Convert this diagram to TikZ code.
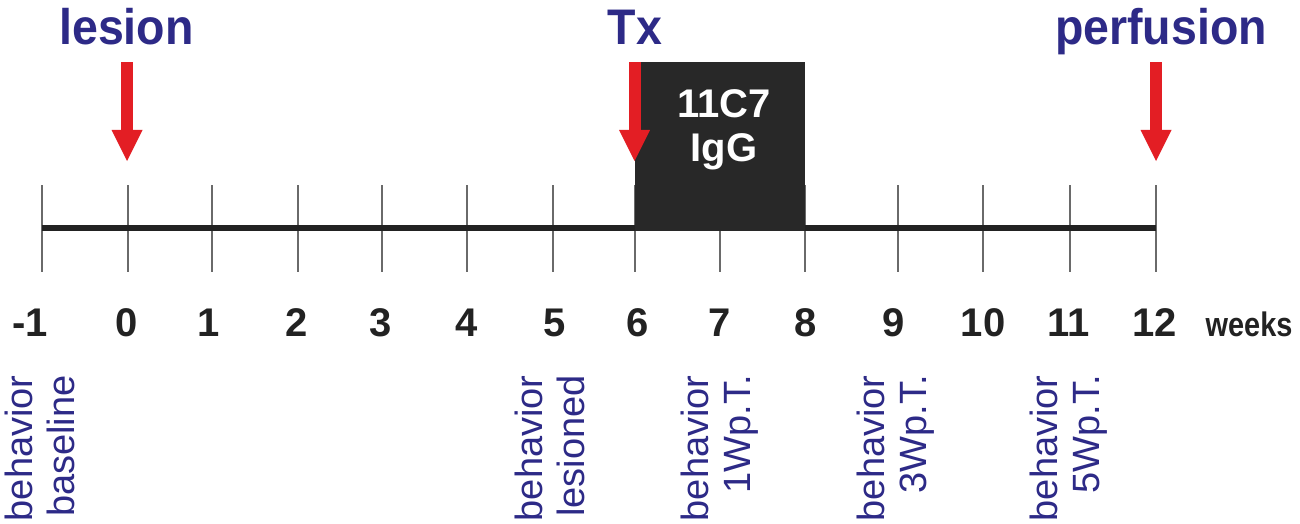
\documentclass[tikz,border=0pt]{standalone}
\usepackage{fontspec}
\setmainfont{Liberation Sans}
\newfontfamily\toplab[FakeStretch=0.93]{Liberation Sans}
\newfontfamily\wkfont[FakeStretch=0.85]{Liberation Sans}
\definecolor{navy}{HTML}{2D2A87}
\definecolor{arrowred}{HTML}{E31E24}
\definecolor{boxgray}{HTML}{282828}
\definecolor{tickgray}{HTML}{6A6A6A}
\definecolor{linedark}{HTML}{222222}
\begin{document}
\begin{tikzpicture}[x=0.5pt,y=-0.5pt,
  toplabel/.style={font=\toplab\bfseries\fontsize{25}{30}\selectfont, text=navy, anchor=base, inner sep=0pt},
  weeknum/.style={font=\bfseries\fontsize{20}{24}\selectfont, text=linedark, anchor=base, inner sep=0pt},
  weekword/.style={font=\wkfont\bfseries\fontsize{17}{20}\selectfont, text=linedark, anchor=base, inner sep=0pt},
  behav/.style={font=\fontsize{19}{21}\selectfont, text=navy, rotate=90, anchor=east, align=right, inner sep=0pt},
  tickline/.style={draw=tickgray, line width=1pt},
  axisline/.style={draw=linedark, line width=2.6pt},
  drugtext/.style={font=\bfseries\fontsize{20}{22}\selectfont, text=white, anchor=base, inner sep=0pt},
  downarrow/.pic={
    \fill[arrowred] (-6,0) rectangle (6,69);
    \fill[arrowred] (-15.5,68) -- (15.5,68) -- (0,99) -- cycle;
  }]
\fill[white] (0,0) rectangle (1300,524);
\useasboundingbox (0,0) rectangle (1300,524);

% ticks, numbers
\foreach \nm/\x/\lab/\lx in {m1/41.7/-1/30, w0/127.7/0/126.5, w1/211.7/1/209, w2/298/2/296.5, w3/381.7/3/381,
  w4/466.7/4/466.5, w5/553.3/5/555, w6/635/6/637.5, w7/720/7/719.5, w8/805/8/806,
  w9/898/9/894, w10/982.7/10/983, w11/1070/11/1069, w12/1156/12/1154.5} {
  \coordinate (t\nm) at (\x,228);
  \coordinate (tt\nm) at (\x,185);
  \coordinate (tb\nm) at (\x,272);
  \draw[tickline] (tt\nm) -- (tb\nm);
  \node[weeknum] (n\nm) at (\lx,336) {\lab};
}
\draw[axisline] (tm1) -- (tw12);
\node[weekword] (weeks) at (1249,336) {weeks};

% treatment box
\fill[boxgray] (635,61.7) rectangle (805,230.5);
\node[drugtext] (drugA) at (724,118) {11C7};
\node[drugtext] (drugB) at (724,162) {IgG};

% top labels and arrows
\node[toplabel] (lesion) at (126.5,45) {lesion};
\node[toplabel] (tx) at (635,45) {Tx};
\node[toplabel] (perf) at (1161,45) {perfusion};
\pic at (127,62) {downarrow};
\pic at (634.5,62) {downarrow};
\pic at (1156,62) {downarrow};

% behavior labels
\node[behav] (bBase) at (40,375) {behavior\\baseline};
\node[behav] (bLes) at (550,375) {behavior\\lesioned};
\node[behav] (b1w) at (720,375) {behavior\\1Wp.T.};
\node[behav] (b3w) at (896,375) {behavior\\3Wp.T.};
\node[behav] (b5w) at (1069,375) {behavior\\5Wp.T.};
\end{tikzpicture}
\end{document}
